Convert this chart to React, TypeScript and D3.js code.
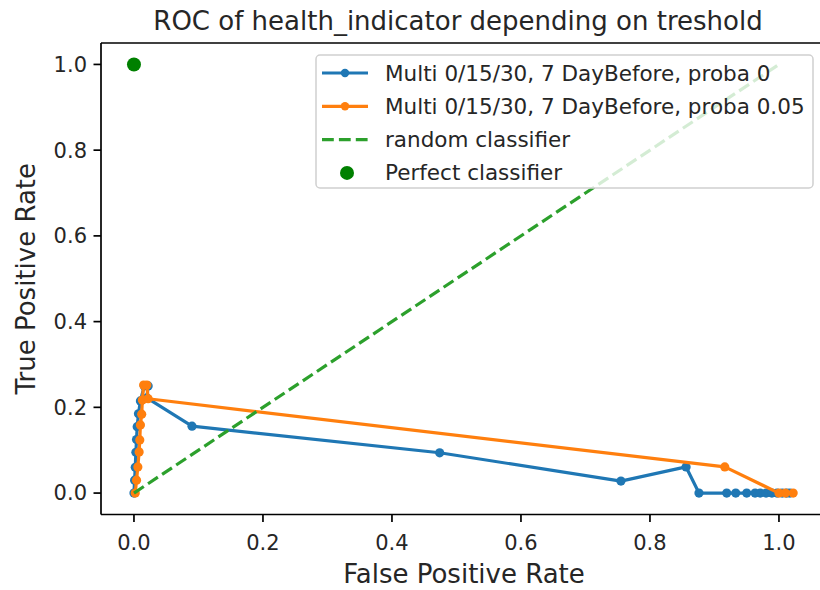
import React from "react";
import * as d3 from "d3";

// ROC points
const fprProba0 = [0, 0.001, 0.002, 0.003, 0.004, 0.005, 0.007, 0.01, 0.016, 0.022, 0.02, 0.09, 0.474, 0.755, 0.856, 0.876, 0.919, 0.933, 0.95, 0.963, 0.971, 0.98, 0.989, 0.997, 1.005, 1.012, 1.017];
const tprProba0 = [0, 0.03, 0.06, 0.095, 0.125, 0.155, 0.185, 0.215, 0.25, 0.25, 0.222, 0.156, 0.094, 0.028, 0.061, 0, 0, 0, 0, 0, 0, 0, 0, 0, 0, 0, 0];
const fprProba005 = [0.002, 0.004, 0.006, 0.008, 0.009, 0.01, 0.012, 0.013, 0.015, 0.02, 0.022, 0.916, 1.0, 1.01, 1.022];
const tprProba005 = [0, 0.03, 0.061, 0.096, 0.124, 0.159, 0.184, 0.217, 0.252, 0.252, 0.22, 0.061, 0, 0, 0];
const randomX = [0, 1];
const randomY = [0, 1];
const perfect = [0, 1];

const xTicks = [0, 0.2, 0.4, 0.6, 0.8, 1.0];
const yTicks = [0, 0.2, 0.4, 0.6, 0.8, 1.0];

const legendLabels = [
  "Multi 0/15/30, 7 DayBefore, proba 0",
  "Multi 0/15/30, 7 DayBefore, proba 0.05",
  "random classifier",
  "Perfect classifier"
];

const W = 820;
const H = 590;
const margin = { left: 101, top: 43, bottom: 514.5 };
const blue = "#1f77b4";
const orange = "#ff7f0e";
const green = "#2ca02c";
const font = "DejaVu Sans, sans-serif";

export default function App() {
  const xScale = d3.scaleLinear().domain([-0.0511, 1.0738]).range([margin.left, margin.left + 1.1249 * 645]);
  const yScale = d3.scaleLinear().domain([-0.05, 1.05]).range([margin.bottom, margin.top]);

  const line = d3
    .line<[number, number]>()
    .x(d => xScale(d[0]))
    .y(d => yScale(d[1]));

  const series = [
    { xs: fprProba0, ys: tprProba0, color: blue },
    { xs: fprProba005, ys: tprProba005, color: orange }
  ];

  const axRight = W + 10;

  return (
    <svg
      width={W}
      height={H}
      style={{ position: "absolute", left: 0, top: 0, background: "#fff" }}
      fontFamily={font}
    >
      <defs>
        <clipPath id="plot">
          <rect x={margin.left} y={margin.top} width={axRight - margin.left} height={margin.bottom - margin.top} />
        </clipPath>
      </defs>

      <g clipPath="url(#plot)">
        {series.map((s, i) => {
          const pts = s.xs.map((x, j) => [x, s.ys[j]] as [number, number]);
          return (
            <g key={i}>
              <path d={line(pts) || ""} fill="none" stroke={s.color} strokeWidth={3.2} strokeLinejoin="round" />
              {pts.map((p, j) => (
                <circle key={j} cx={xScale(p[0])} cy={yScale(p[1])} r={4.6} fill={s.color} />
              ))}
            </g>
          );
        })}
        <path
          d={line(randomX.map((x, i) => [x, randomY[i]] as [number, number])) || ""}
          fill="none"
          stroke={green}
          strokeWidth={3.2}
          strokeDasharray="11.8 5.1"
        />
        <circle cx={xScale(perfect[0])} cy={yScale(perfect[1])} r={7} fill="#008000" />
      </g>

      {/* spines */}
      <line x1={margin.left} x2={margin.left} y1={margin.top} y2={margin.bottom} stroke="#000" strokeWidth={1.7} />
      <line x1={margin.left} x2={axRight} y1={margin.bottom} y2={margin.bottom} stroke="#000" strokeWidth={1.7} />
      <line x1={margin.left} x2={axRight} y1={margin.top} y2={margin.top} stroke="#000" strokeWidth={1.7} />

      {xTicks.map(t => (
        <g key={t} transform={`translate(${xScale(t)},${margin.bottom})`}>
          <line y2={7.5} stroke="#000" strokeWidth={1.7} />
          <text y={35} textAnchor="middle" fontSize={21} fill="#262626">
            {d3.format(".1f")(t)}
          </text>
        </g>
      ))}
      {yTicks.map(t => (
        <g key={t} transform={`translate(${margin.left},${yScale(t)})`}>
          <line x2={-7.5} stroke="#000" strokeWidth={1.7} />
          <text x={-14} dy="0.35em" textAnchor="end" fontSize={21} fill="#262626">
            {d3.format(".1f")(t)}
          </text>
        </g>
      ))}

      <text x={464} y={583} textAnchor="middle" fontSize={26} fill="#262626">
        False Positive Rate
      </text>
      <text transform={`translate(35,${(margin.top + margin.bottom) / 2}) rotate(-90)`} textAnchor="middle" fontSize={26} fill="#262626">
        True Positive Rate
      </text>
      <text x={458} y={30} textAnchor="middle" fontSize={26} fill="#262626">
        ROC of health_indicator depending on treshold
      </text>

      {/* legend */}
      <g>
        <rect x={316} y={55} width={497} height={133} rx={4} fill="#fff" fillOpacity={0.8} stroke="#d0d0d0" strokeWidth={1.5} />
        {legendLabels.map((lab, i) => {
          const y = 73 + i * 33.3;
          return (
            <g key={lab}>
              {i < 2 && (
                <g>
                  <line x1={322} x2={368} y1={y} y2={y} stroke={i === 0 ? blue : orange} strokeWidth={3.2} />
                  <circle cx={345} cy={y} r={4.2} fill={i === 0 ? blue : orange} />
                </g>
              )}
              {i === 2 && <line x1={322} x2={368} y1={y} y2={y} stroke={green} strokeWidth={3.2} strokeDasharray="11.8 5.1" />}
              {i === 3 && <circle cx={347} cy={y} r={7} fill="#008000" />}
              <text x={385} y={y} dy="0.35em" fontSize={21.5} fill="#262626">
                {lab}
              </text>
            </g>
          );
        })}
      </g>
    </svg>
  );
}
